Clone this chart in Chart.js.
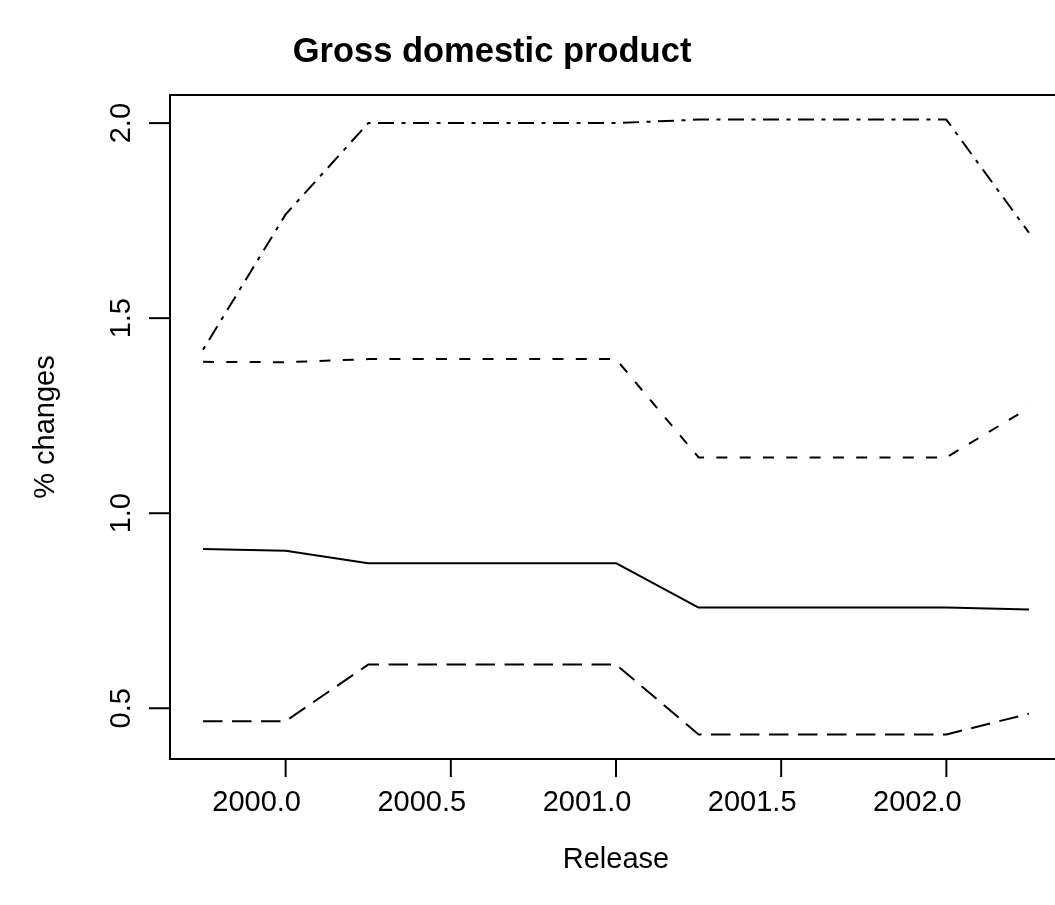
<!DOCTYPE html>
<html>
<head>
<meta charset="utf-8">
<script src="https://cdn.jsdelivr.net/npm/chart.js@4/dist/chart.umd.min.js"></script>
<style>
  html, body { margin: 0; padding: 0; background: #ffffff; overflow: hidden; }
  #wrap { position: relative; width: 1200px; height: 905px; }
</style>
</head>
<body>
<div id="wrap"><canvas id="gdp" width="1200" height="905"></canvas></div>
<script>
// Release dates (quarterly) and the four revision series, in % changes
const releases   = [1999.75, 2000.0, 2000.25, 2000.5, 2000.75, 2001.0, 2001.25, 2001.5, 2001.75, 2002.0, 2002.25];
const central    = [0.908, 0.904, 0.872, 0.872, 0.872, 0.872, 0.758, 0.758, 0.758, 0.758, 0.753];
const upperInner = [1.388, 1.387, 1.395, 1.395, 1.395, 1.395, 1.143, 1.143, 1.143, 1.143, 1.270];
const lowerInner = [0.467, 0.467, 0.612, 0.612, 0.612, 0.612, 0.433, 0.433, 0.433, 0.433, 0.486];
const upperOuter = [1.419, 1.766, 2.000, 2.000, 2.000, 2.000, 2.009, 2.009, 2.009, 2.009, 1.719];

// Axis ticks
const xTickValues = [2000.0, 2000.5, 2001.0, 2001.5, 2002.0];
const xTickLabels = ['2000.0', '2000.5', '2001.0', '2001.5', '2002.0'];
const yTickValues = [0.5, 1.0, 1.5, 2.0];
const yTickLabels = ['0.5', '1.0', '1.5', '2.0'];

const titleText = 'Gross domestic product';
const xTitle = 'Release';
const yTitle = '% changes';

// Axis limits padded by 4% of the data range on each side
function paddedRange(values) {
  const lo = Math.min(...values), hi = Math.max(...values);
  const pad = (hi - lo) * 0.04;
  return [lo - pad, hi + pad];
}
const [xMin, xMax] = paddedRange(releases);
const [yMin, yMax] = paddedRange([].concat(central, upperInner, lowerInner, upperOuter));

const toPoints = vals => vals.map((v, i) => ({ x: releases[i], y: v }));

const FONT = '"Liberation Sans", Arial, Helvetica, sans-serif';

// Frame, tick marks and all text, placed from the chart's own scales
const framePlugin = {
  id: 'frame',
  afterDraw(chart) {
    const { ctx, chartArea: a, scales } = chart;
    const xs = scales.x, ys = scales.y;
    ctx.save();
    ctx.strokeStyle = '#000';
    ctx.fillStyle = '#000';
    ctx.lineWidth = 2;
    ctx.lineCap = 'butt';
    ctx.strokeRect(a.left, a.top, a.right - a.left, a.bottom - a.top);

    // x axis ticks and labels
    ctx.font = '29px ' + FONT;
    ctx.textAlign = 'center';
    ctx.textBaseline = 'alphabetic';
    xTickValues.forEach((v, i) => {
      const px = xs.getPixelForValue(v);
      ctx.beginPath();
      ctx.moveTo(px, a.bottom);
      ctx.lineTo(px, a.bottom + 18);
      ctx.stroke();
      ctx.fillText(xTickLabels[i], px - 29, a.bottom + 52);
    });

    // y axis ticks and rotated labels
    yTickValues.forEach((v, i) => {
      const py = ys.getPixelForValue(v);
      ctx.beginPath();
      ctx.moveTo(a.left - 21, py);
      ctx.lineTo(a.left, py);
      ctx.stroke();
      ctx.save();
      ctx.translate(a.left - 40, py);
      ctx.rotate(-Math.PI / 2);
      ctx.fillText(yTickLabels[i], 0, 0);
      ctx.restore();
    });

    // axis titles
    const midX = (a.left + a.right) / 2;
    const midY = (a.top + a.bottom) / 2;
    ctx.fillText(xTitle, midX, a.bottom + 109);
    ctx.save();
    ctx.translate(a.left - 116, midY);
    ctx.rotate(-Math.PI / 2);
    ctx.fillText(yTitle, 0, 0);
    ctx.restore();

    // main title
    ctx.font = 'bold 34.5px ' + FONT;
    ctx.fillText(titleText, midX - 124, a.top - 33);
    ctx.restore();
  }
};

const lineStyle = (data, dash) => ({
  data: toPoints(data),
  borderColor: '#000000',
  borderWidth: 2,
  borderDash: dash,
  borderCapStyle: 'butt',
  borderJoinStyle: 'round',
  pointRadius: 0,
  tension: 0,
  fill: false
});

new Chart(document.getElementById('gdp'), {
  type: 'line',
  data: {
    datasets: [
      Object.assign(lineStyle(central, []), { label: 'central' }),
      Object.assign(lineStyle(upperInner, [11, 12.3]), { label: 'upper inner' }),
      Object.assign(lineStyle(lowerInner, [19.5, 9.5]), { label: 'lower inner' }),
      Object.assign(lineStyle(upperOuter, [4, 7.5, 16, 7.5]), { label: 'upper outer' })
    ]
  },
  options: {
    responsive: false,
    animation: false,
    devicePixelRatio: 1,
    layout: { padding: { left: 170, right: 138, top: 95, bottom: 146 } },
    plugins: { legend: { display: false }, tooltip: { enabled: false }, title: { display: false } },
    scales: {
      x: { type: 'linear', min: xMin, max: xMax, display: false },
      y: { type: 'linear', min: yMin, max: yMax, display: false }
    }
  },
  plugins: [framePlugin]
});
</script>
</body>
</html>
